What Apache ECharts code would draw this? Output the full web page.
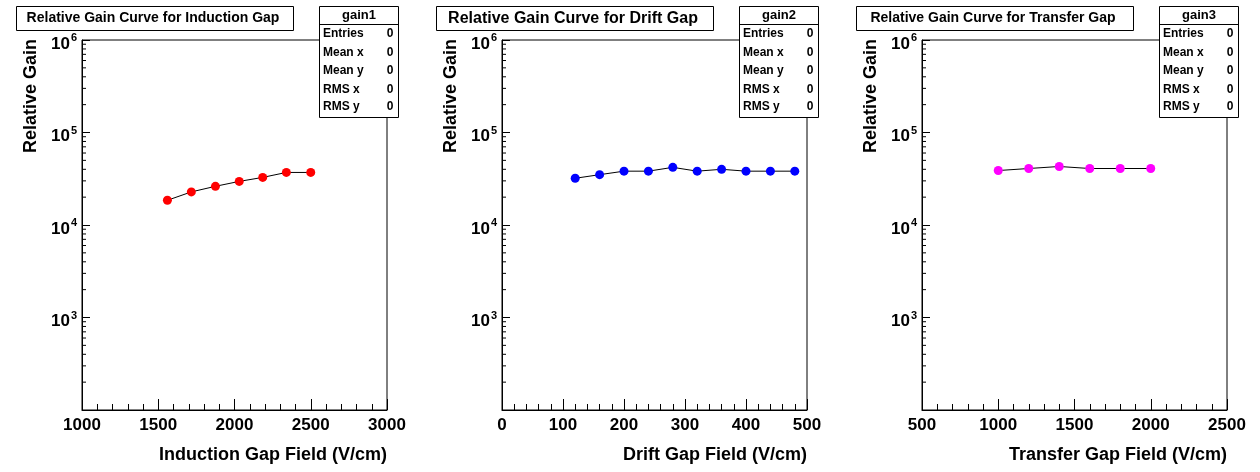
<!DOCTYPE html>
<html><head><meta charset="utf-8">
<script src="https://cdn.jsdelivr.net/npm/echarts@6/dist/echarts.min.js"></script>
<style>html,body{margin:0;padding:0;background:#fff}#c{width:1260px;height:472px}</style>
</head><body><div id="c"></div>
<script>
// ---- data ----
const titles = ["Relative Gain Curve for Induction Gap", "Relative Gain Curve for Drift Gap", "Relative Gain Curve for Transfer Gap"];
const statNames = ["gain1", "gain2", "gain3"];
const xTitles = ["Induction Gap Field (V/cm)", "Drift Gap Field (V/cm)", "Transfer Gap Field (V/cm)"];
const yTitle = "Relative Gain";
const statLabels = ["Entries", "Mean x", "Mean y", "RMS x", "RMS y"];
const statValues = ["0", "0", "0", "0", "0"];
const xMins = [1000, 0, 500];
const xMaxs = [3000, 500, 2500];
const xIntervals = [500, 100, 500];
const yMin = 100, yMax = 1e6;
const inductionX = [1560, 1717, 1875, 2031, 2185, 2340, 2500];
const inductionY = [18500, 22800, 26200, 29600, 32700, 37000, 37000];
const driftX = [120, 160, 200, 240, 280, 320, 360, 400, 440, 480];
const driftY = [32000, 35000, 38200, 38200, 42000, 38200, 40000, 38200, 38200, 38200];
const transferX = [1000, 1200, 1400, 1600, 1800, 2000];
const transferY = [38800, 40800, 42900, 40800, 40800, 40800];
const colors = ["#ff0000", "#0000ff", "#ff00ff"];

const xs = [inductionX, driftX, transferX];
const ys = [inductionY, driftY, transferY];
const FONT = "Liberation Sans, Arial, sans-serif";
const offsets = [0, 420, 840];

const grids = [], xAxes = [], yAxes = [], series = [], graphics = [];
// log minor tick values
const minorVals = [];
for (let k = 2; k < 6; k++) for (let m = 2; m <= 9; m++) minorVals.push(m * Math.pow(10, k));

for (let i = 0; i < 3; i++) {
  const off = offsets[i];
  grids.push({left: 82 + off, top: 40, width: 305, height: 370, show: true, borderColor: '#000', borderWidth: 1, backgroundColor: 'transparent'});
  xAxes.push({
    type: 'value', gridIndex: i, min: xMins[i], max: xMaxs[i], interval: xIntervals[i],
    axisLine: {show: true, onZero: false, lineStyle: {color: '#000', width: 1}},
    axisTick: {show: true, inside: true, length: 11, lineStyle: {color: '#000'}},
    minorTick: {show: true, splitNumber: 5, length: 6, lineStyle: {color: '#000'}},
    splitLine: {show: false},
    axisLabel: {color: '#000', fontFamily: FONT, fontWeight: 'bold', fontSize: 17, margin: 7, showMinLabel: true, showMaxLabel: true,
      formatter: function (v) { return String(v); }}
  });
  yAxes.push({
    type: 'log', logBase: 10, gridIndex: i, min: yMin, max: yMax,
    axisLine: {show: true, lineStyle: {color: '#000', width: 1}},
    axisTick: {show: true, inside: true, length: 8, lineStyle: {color: '#000'}},
    splitLine: {show: false},
    axisLabel: {
      color: '#000', fontFamily: FONT, fontWeight: 'bold', margin: 5,
      formatter: function (v) {
        const e = Math.round(Math.log10(v));
        if (e === 2) return '';
        return '{b|10}{s|' + e + '}';
      },
      rich: {
        b: {fontSize: 17, fontWeight: 'bold', fontFamily: FONT, color: '#000', padding: [8, 0, 0, 0]},
        s: {fontSize: 11, fontWeight: 'bold', fontFamily: FONT, color: '#000', padding: [0, 0, 4, 1]}
      }
    }
  });
  series.push({
    type: 'line', xAxisIndex: i, yAxisIndex: i,
    data: xs[i].map((x, j) => [x, ys[i][j]]),
    symbol: 'circle', symbolSize: 9,
    lineStyle: {color: '#000', width: 1},
    itemStyle: {color: colors[i]},
    emphasis: {disabled: true}, animation: false, z: 5
  });
  const xm = xMins[i];
  series.push({
    type: 'custom', xAxisIndex: i, yAxisIndex: i, silent: true, animation: false,
    data: minorVals.map(v => [xm, v]),
    renderItem: function (params, api) {
      const p = api.coord([api.value(0), api.value(1)]);
      return {type: 'line', shape: {x1: p[0], y1: p[1], x2: p[0] + 4, y2: p[1]}, style: {stroke: '#000', lineWidth: 1}};
    },
    z: 3
  });
  // title box
  graphics.push({type: 'rect', z: 100, shape: {x: 16.5 + off, y: 6.5, width: 277, height: 24}, style: {fill: '#fff', stroke: '#000', lineWidth: 1}});
  graphics.push({type: 'text', z: 101, x: 153 + off, y: 18.5, style: {text: titles[i], font: 'bold ' + (i === 1 ? 16 : 14) + 'px ' + FONT, fill: '#000', align: 'center', verticalAlign: 'middle'}});
  // stat box
  graphics.push({type: 'rect', z: 100, shape: {x: 319.5 + off, y: 6.5, width: 79, height: 111}, style: {fill: '#fff', stroke: '#000', lineWidth: 1}});
  graphics.push({type: 'line', z: 101, shape: {x1: 319.5 + off, y1: 24.5, x2: 398.5 + off, y2: 24.5}, style: {stroke: '#000', lineWidth: 1}});
  graphics.push({type: 'text', z: 101, x: 359 + off, y: 15.5, style: {text: statNames[i], font: 'bold 13px ' + FONT, fill: '#000', align: 'center', verticalAlign: 'middle'}});
  const rowY = [33.5, 52.5, 70.5, 89.5, 106.5];
  for (let r = 0; r < statLabels.length; r++) {
    graphics.push({type: 'text', z: 101, x: 323 + off, y: rowY[r], style: {text: statLabels[r], font: 'bold 12px ' + FONT, fill: '#000', align: 'left', verticalAlign: 'middle'}});
    graphics.push({type: 'text', z: 101, x: 393.5 + off, y: rowY[r], style: {text: statValues[r], font: 'bold 12px ' + FONT, fill: '#000', align: 'right', verticalAlign: 'middle'}});
  }
  // axis titles
  graphics.push({type: 'text', z: 101, x: 387 + off, y: 455, style: {text: xTitles[i], font: 'bold 18px ' + FONT, fill: '#000', align: 'right', verticalAlign: 'middle'}});
  graphics.push({type: 'text', z: 101, x: 31 + off, y: 39, rotation: Math.PI / 2, style: {text: yTitle, font: 'bold 18px ' + FONT, fill: '#000', align: 'right', verticalAlign: 'middle'}});
}

const chart = echarts.init(document.getElementById('c'), null, {renderer: 'canvas'});
chart.setOption({
  animation: false,
  backgroundColor: '#fff',
  grid: grids, xAxis: xAxes, yAxis: yAxes, series: series, graphic: graphics
});
</script></body></html>
